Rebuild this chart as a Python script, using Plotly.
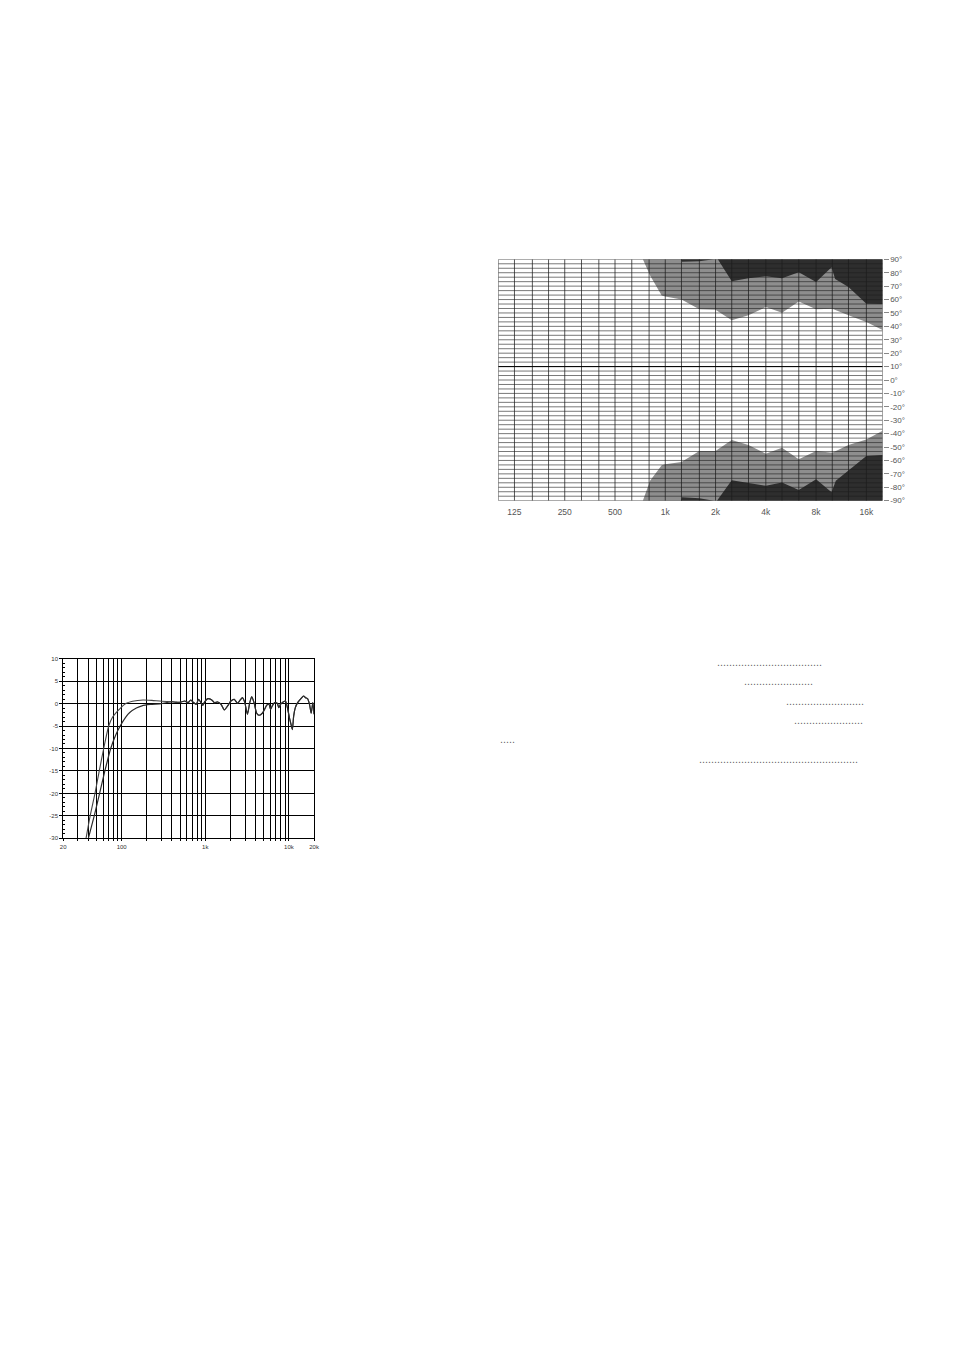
import math
import plotly.graph_objects as go

# page is rendered with the default 8px body margin; keep the figure inside the viewport
OFF = 8
W, H = 954 - 2 * OFF, 1350 - 2 * OFF

# ---------------- Frequency response chart (bottom-left) ----------------
fr_grid_freqs = [20, 30, 40, 50, 60, 70, 80, 90, 100, 200, 300, 400, 500, 600, 700, 800, 900,
                 1000, 2000, 3000, 4000, 5000, 6000, 7000, 8000, 9000, 10000, 20000]
fr_labels = {20: "20", 100: "100", 1000: "1k", 10000: "10k", 20000: "20k"}
fr_db_ticks = [10, 5, 0, -5, -10, -15, -20, -25, -30]

# steeper low-frequency roll-off
lowA_f = [37.5, 42, 48, 54, 61, 70, 78, 86, 97, 112, 135, 180, 230, 300]
lowA_db = [-30, -25, -20, -15, -10, -5, -3, -2, -1, 0, 0.5, 0.8, 0.7, 0.5]
# gentler low-frequency roll-off
lowB_f = [40, 47, 54.5, 63, 74, 85, 96, 112, 125, 150, 175, 220, 300]
lowB_db = [-30, -25, -20, -15, -10, -7, -5, -3, -2, -1, -0.5, -0.2, 0.0]
# common part above ~400 Hz
hi_f = [400, 450, 518, 568, 622, 669, 713, 780, 831, 878, 936, 980, 1073, 1196, 1287, 1409,
        1543, 1690, 1851, 2027, 2220, 2432, 2616, 2789, 2970, 3194, 3404, 3595, 3832, 4122,
        4392, 4810, 5128, 5415, 5770, 6040, 6320, 6734, 7244, 7580, 7934, 8532, 9094, 9690,
        10234, 10710, 11006, 11414, 11940, 12730, 13936, 14988, 15828, 16716, 17652, 18474,
        19336, 20000]
hi_db = [0.4, 0.3, 0.35, 0.57, 0.2, 0.79, 0.35, -0.17, 0.94, 0.35, -0.39, 0.35, 1.09, 0.79, 0.2, 0.35,
         -0.17, -1.42, -0.53, 0.57, 0.94, 0.06, 0.79, 1.31, 0.2, -2.37, 0.2, 1.53, 0.2, -2.15,
         -2.6, -2.15, -1.27, -0.39, -0.17, -1.27, -0.53, 0.2, 0.06, -0.9, -0.17, 0.35, 0.57, -1.27,
         -3.48, -4.95, -5.8, -2.74, -0.9, 0.2, 1.09, 1.68, 1.31, 1.09, -0.17, -2.15,
         0.2, -2.37]

# ---------------- Directivity chart (top-right) ----------------
dir_bands = [100, 125, 160, 200, 250, 315, 400, 500, 630, 800, 1000, 1250, 1600, 2000, 2500,
             3150, 4000, 5000, 6300, 8000, 10000, 12500, 16000, 20000]
dir_tick_vals = [125, 250, 500, 1000, 2000, 4000, 8000, 16000]
dir_tick_text = ["125", "250", "500", "1k", "2k", "4k", "8k", "16k"]
dir_angles = list(range(-90, 91, 10))
dir_angle_text = [f"{a}\u00b0" for a in dir_angles]
dir_grid_rows = 54  # horizontal grid rows between -90 and +90
dir_mark_angle = 10

white_top_f = [734, 811, 952, 1000, 1250, 1600, 2000, 2500, 3150, 4000, 5000, 6300, 8000, 10000,
               12500, 16000, 20000]
white_top_deg = [90, 77.9, 63.1, 62.3, 60.1, 52.7, 52.4, 44.6, 48.3, 54.4, 50.2, 58.6, 52.7, 53.2,
                 48.3, 43.3, 37.2]
white_bot_f = white_top_f
white_bot_deg = [-90, -75.2, -63.5, -62.8, -61.1, -53, -53, -44.8, -48.5, -55, -50.5, -59.1, -53,
                 -54.2, -48.5, -44.3, -37.8]

dark_top_f = [2064, 2500, 3150, 4000, 5000, 6300, 8000, 9900, 10400, 12500, 16000, 20000]
dark_top_deg = [90, 73.7, 75.9, 77.4, 75.9, 80.4, 73, 84, 75.4, 69.3, 56.9, 56.6]
dark_bot_f = [2040, 2500, 3150, 4000, 5000, 6300, 8000, 9900, 10500, 12500, 16000, 20000]
dark_bot_deg = [-90, -74.7, -76.9, -78.9, -76.4, -82.1, -74, -83.8, -75.2, -67.8, -56.7, -56]

patch_top_f = [1240, 1260, 1600, 1950]
patch_top_deg = [90, 88.2, 88.6, 90]
patch_bot_f = [1240, 1260, 1600, 1950]
patch_bot_deg = [-90, -87.5, -88.2, -90]

GRAY = "#8e8e8e"
DARK = "#2e2e2e"

fig = go.Figure()

# ---- directivity fills ----
def poly(fx, fy, edge_deg, color):
    xs = list(fx) + [dir_bands[-1], fx[0]]
    ys = list(fy) + [edge_deg, edge_deg]
    fig.add_trace(go.Scatter(x=xs, y=ys, mode="lines", fill="toself", fillcolor=color,
                             line=dict(width=0, color=color), xaxis="x2", yaxis="y2",
                             hoverinfo="skip", showlegend=False))

poly(white_top_f, white_top_deg, 90, GRAY)
poly(white_bot_f, white_bot_deg, -90, GRAY)
poly(dark_top_f, dark_top_deg, 90, DARK)
poly(dark_bot_f, dark_bot_deg, -90, DARK)
for fx, fy in [(patch_top_f, patch_top_deg), (patch_bot_f, patch_bot_deg)]:
    fig.add_trace(go.Scatter(x=fx + [fx[0]], y=fy + [fy[0]], mode="lines", fill="toself",
                             fillcolor=DARK, line=dict(width=0, color=DARK),
                             xaxis="x2", yaxis="y2", hoverinfo="skip", showlegend=False))

# ---- directivity grid drawn above fills ----
hx, hy = [], []
for i in range(dir_grid_rows + 1):
    a = -90 + 180 * i / dir_grid_rows
    hx += [dir_bands[0], dir_bands[-1], None]
    hy += [a, a, None]
fig.add_trace(go.Scatter(x=hx, y=hy, mode="lines", line=dict(color="rgba(30,30,30,0.6)", width=1),
                         xaxis="x2", yaxis="y2", hoverinfo="skip", showlegend=False))
vx, vy = [], []
for b in dir_bands:
    vx += [b, b, None]
    vy += [-90, 90, None]
fig.add_trace(go.Scatter(x=vx, y=vy, mode="lines", line=dict(color="rgba(30,30,30,0.75)", width=1),
                         xaxis="x2", yaxis="y2", hoverinfo="skip", showlegend=False))
fig.add_trace(go.Scatter(x=[dir_bands[0], dir_bands[-1]], y=[dir_mark_angle, dir_mark_angle],
                         mode="lines", line=dict(color="#000000", width=1),
                         xaxis="x2", yaxis="y2", hoverinfo="skip", showlegend=False))

# ---- frequency response curves ----
fig.add_trace(go.Scatter(x=lowA_f + hi_f, y=lowA_db + hi_db, mode="lines",
                         line=dict(color="#444444", width=1.1, shape="spline", smoothing=0.6),
                         xaxis="x", yaxis="y", showlegend=False))
fig.add_trace(go.Scatter(x=lowB_f + hi_f, y=lowB_db + hi_db, mode="lines",
                         line=dict(color="#2a2a2a", width=1.2, shape="spline", smoothing=0.6),
                         xaxis="x", yaxis="y", showlegend=False))

# ---- layout (pixel positions on the page) ----
fr_x0, fr_x1, fr_y0, fr_y1 = 60.7, 314, 659, 840
dr_x0, dr_x1, dr_y0, dr_y1 = 500, 888, 257, 500

def px(x):
    return (x - OFF) / W

def py(y):
    return 1 - (y - OFF) / H

fig.update_layout(
    width=W, height=H, margin=dict(l=0, r=0, t=0, b=0),
    paper_bgcolor="white", plot_bgcolor="white", showlegend=False,
    font=dict(family="Liberation Sans, Arial, sans-serif"),
    xaxis=dict(domain=[px(fr_x0), px(fr_x1)], anchor="y", type="log",
               range=[math.log10(20), math.log10(20000)],
               tickvals=fr_grid_freqs, ticktext=[fr_labels.get(f, "") for f in fr_grid_freqs],
               showgrid=True, gridcolor="#000000", gridwidth=1,
               ticks="outside", ticklen=2, tickcolor="#000", tickwidth=1,
               showline=True, linecolor="#000", linewidth=1, mirror=True,
               tickfont=dict(size=6, color="#333"), tickangle=0, zeroline=False),
    yaxis=dict(domain=[py(fr_y1), py(fr_y0)], anchor="x", range=[-30, 10],
               tickvals=fr_db_ticks, ticktext=[str(v) for v in fr_db_ticks],
               showgrid=True, gridcolor="#000000", gridwidth=1,
               ticks="outside", ticklen=3, tickcolor="#000",
               minor=dict(dtick=1, ticks="inside", ticklen=2, tickcolor="#000", showgrid=False),
               showline=True, linecolor="#000", linewidth=1, mirror=True,
               tickfont=dict(size=6, color="#333"), zeroline=False),
    xaxis2=dict(domain=[px(dr_x0), px(dr_x1)], anchor="y2", type="log",
                range=[math.log10(dir_bands[0]), math.log10(dir_bands[-1])],
                tickvals=dir_tick_vals, ticktext=dir_tick_text, ticks="", showgrid=False,
                showline=False, zeroline=False, ticklabelstandoff=5,
                tickfont=dict(size=8.5, color="#555")),
    yaxis2=dict(domain=[py(dr_y1), py(dr_y0)], anchor="x2", side="right",
                range=[-90, 90], tickvals=dir_angles, ticktext=dir_angle_text,
                ticks="outside", ticklen=5, tickcolor="#888", showgrid=False,
                showline=False, zeroline=False, tickfont=dict(size=8, color="#555")),
)

# ---- dotted leaders in the text column ----
leaders = [(719, 665.7, 35), (746, 685, 23), (788, 704.3, 26), (797, 724, 23), (500, 743.3, 5),
           (701, 762.7, 53)]
for x, y, n in leaders:
    fig.add_annotation(x=px(x), y=py(y - 3), xref="paper", yref="paper", text="." * n,
                       showarrow=False, xanchor="left", yanchor="middle",
                       font=dict(size=10.8, color="#666", family="Liberation Sans"))

fig.write_html("out.html")
